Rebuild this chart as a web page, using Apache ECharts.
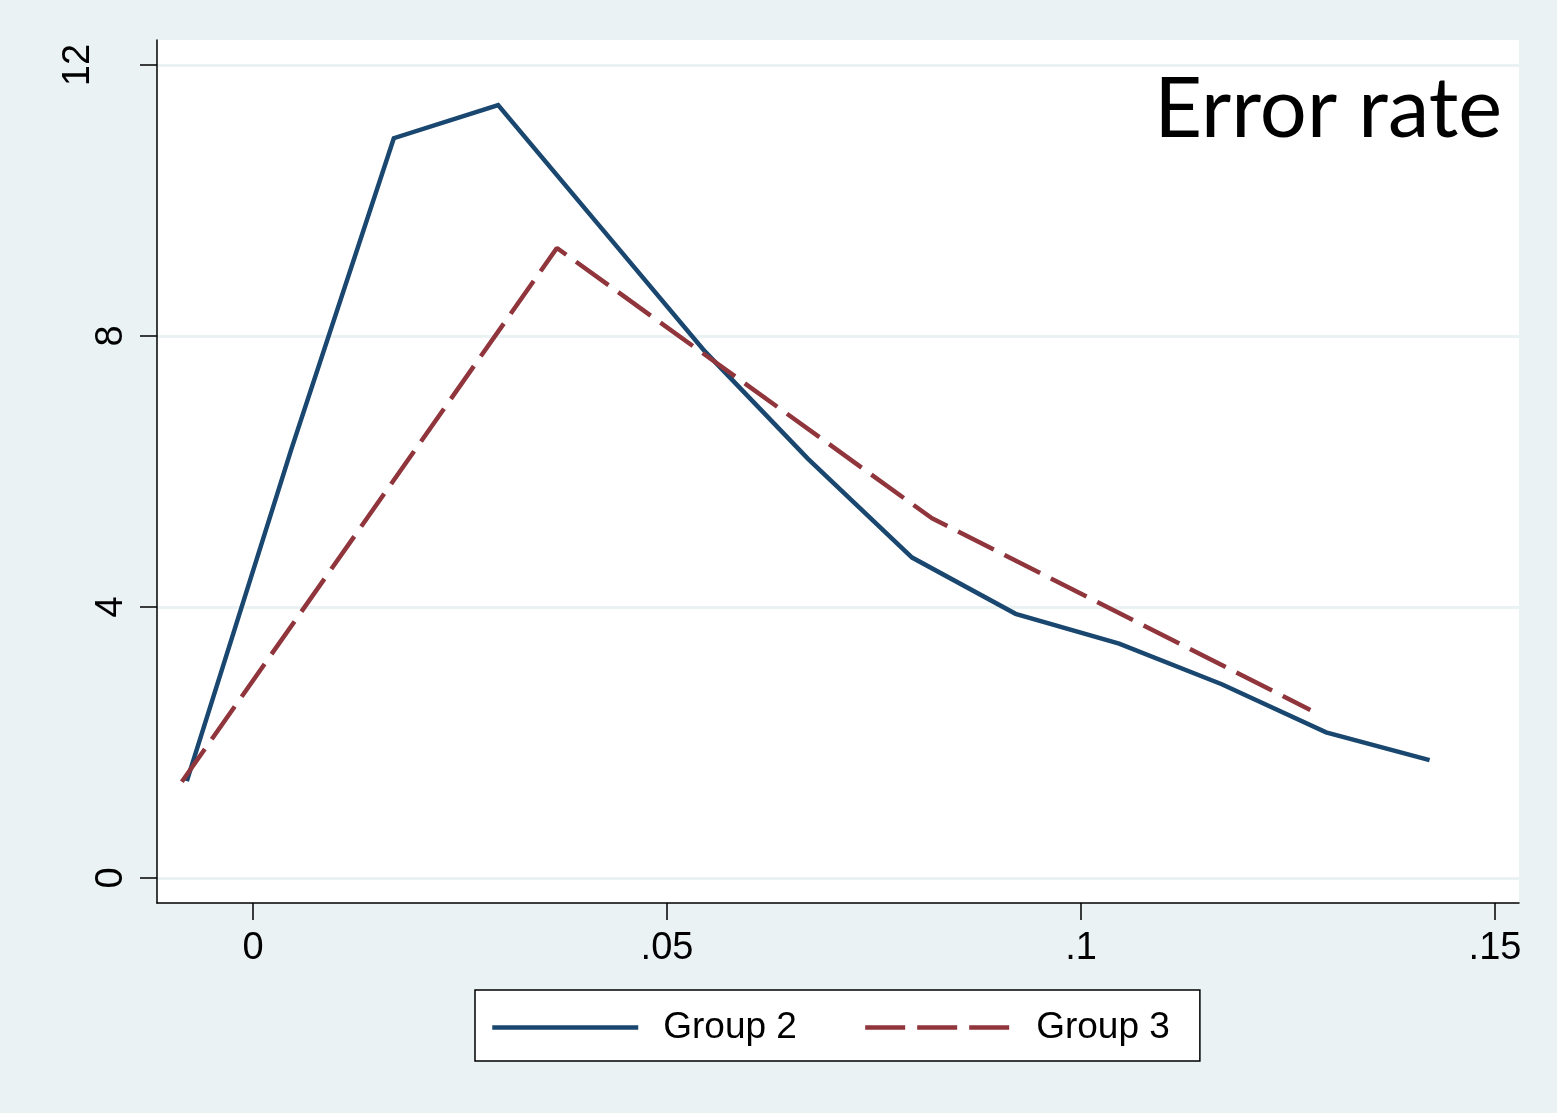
<!DOCTYPE html>
<html>
<head>
<meta charset="utf-8">
<script src="https://cdn.jsdelivr.net/npm/echarts@6/dist/echarts.min.js"></script>
<style>
html,body{margin:0;padding:0;background:#eaf2f3;}
#c{width:1557px;height:1113px;}
</style>
</head>
<body>
<div id="c"></div>
<script>
// Data
var group2X = [-0.0080, 0.0046, 0.0170, 0.0296, 0.0421, 0.0546, 0.0670, 0.0796, 0.0921, 0.1046, 0.1170, 0.1296, 0.1421];
var group2Y = [1.43, 6.32, 10.92, 11.41, 9.59, 7.77, 6.19, 4.73, 3.90, 3.46, 2.86, 2.15, 1.74];
var group3X = [-0.0086, 0.0367, 0.0820, 0.1277];
var group3Y = [1.42, 9.30, 5.31, 2.48];
var xTicks = [0, 0.05, 0.1, 0.15];
var yTicks = [0, 4, 8, 12];
var seriesNames = ['Group 2', 'Group 3'];
var titleText = 'Error rate';

function pairs(xs, ys) {
  return xs.map(function (x, i) { return [x, ys[i]]; });
}

var chart = echarts.init(document.getElementById('c'), null, {renderer: 'canvas'});
chart.setOption({
  animation: false,
  backgroundColor: '#eaf2f3',
  title: {
    text: titleText,
    right: 55,
    top: 69,
    padding: 0,
    textStyle: {fontFamily: 'Lato', fontWeight: 'normal', fontSize: 83, color: '#000'}
  },
  grid: {
    left: 157, top: 40, width: 1362, height: 863,
    show: true, backgroundColor: '#ffffff', borderWidth: 0
  },
  legend: {
    left: 475, top: 990,
    orient: 'horizontal',
    backgroundColor: '#ffffff',
    borderColor: '#000000',
    borderWidth: 1.5,
    borderRadius: 0,
    padding: [19, 30, 15, 15],
    itemWidth: 146,
    itemHeight: 14,
    itemGap: 66,
    itemStyle: {opacity: 0},
    lineStyle: {width: 4.5},
    textStyle: {fontFamily: 'Liberation Sans', fontSize: 37, color: '#000', padding: [0, 0, 0, 20], lineHeight: 36},
    data: seriesNames
  },
  xAxis: {
    type: 'value',
    min: -0.0116, max: 0.1529,
    axisLine: {show: true, onZero: false, lineStyle: {color: '#000', width: 1.5}},
    axisTick: {show: true, length: 17, customValues: xTicks, lineStyle: {color: '#000', width: 1.5}},
    axisLabel: {
      customValues: xTicks, margin: 27,
      fontFamily: 'Liberation Sans', fontSize: 38, color: '#000',
      formatter: function (v) { return v === 0 ? '0' : String(v).replace(/^0/, ''); }
    },
    splitLine: {show: false}
  },
  yAxis: {
    type: 'value',
    min: -0.369, max: 12.37,
    axisLine: {show: true, onZero: false, lineStyle: {color: '#000', width: 1.5}},
    axisTick: {show: true, length: 17, customValues: yTicks, lineStyle: {color: '#000', width: 1.5}},
    axisLabel: {
      customValues: yTicks, margin: 26, rotate: 90,
      fontFamily: 'Liberation Sans', fontSize: 38, color: '#000',
      formatter: function (v) { return v === 12 ? '{s|12}' : '{n|' + v + '}'; },
      rich: {
        s: {fontFamily: 'Liberation Sans', fontSize: 38, color: '#000', padding: [0, 0, 33, 0]},
        n: {fontFamily: 'Liberation Sans', fontSize: 38, color: '#000'}
      }
    },
    splitLine: {show: true, lineStyle: {color: '#eaf2f3', width: 3}}
  },
  series: [
    {
      name: seriesNames[0], type: 'line', symbol: 'none', showSymbol: false,
      data: pairs(group2X, group2Y),
      itemStyle: {color: '#1a476f'},
      lineStyle: {color: '#1a476f', width: 4.5, join: 'miter'}
    },
    {
      name: seriesNames[1], type: 'line', symbol: 'none', showSymbol: false,
      data: pairs(group3X, group3Y),
      itemStyle: {color: '#90353b'},
      lineStyle: {color: '#90353b', width: 4.5, type: [40, 12]}
    }
  ]
});
</script>
</body>
</html>
